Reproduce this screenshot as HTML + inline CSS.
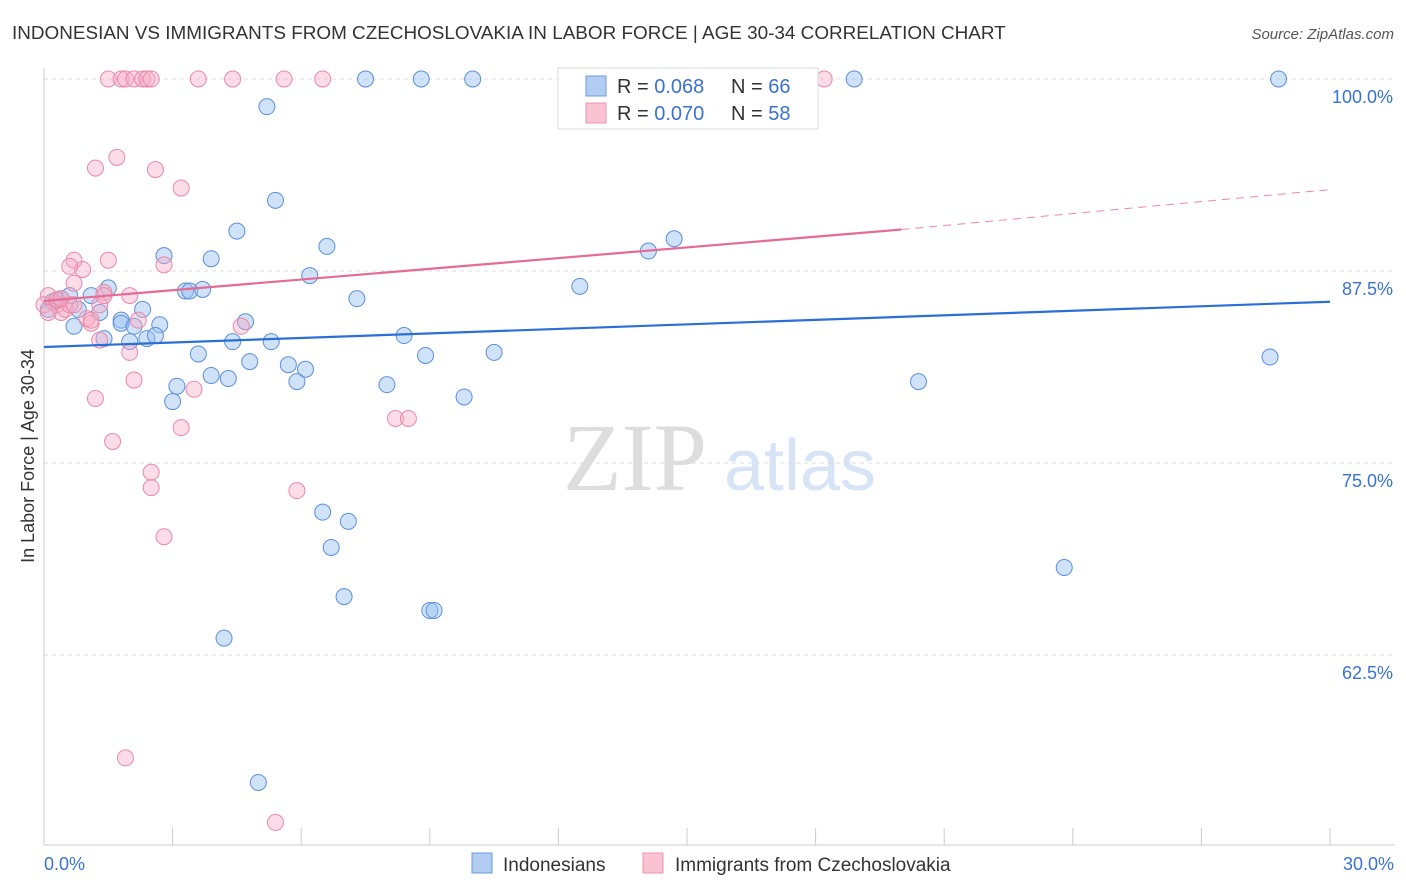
<!DOCTYPE html>
<html><head><meta charset="utf-8"><style>
body{margin:0;background:#fff;font-family:"Liberation Sans",sans-serif}
svg{display:block}
</style></head><body>
<svg id="c" width="1406" height="892" xmlns="http://www.w3.org/2000/svg">
<text x="12" y="39" font-size="18.9" fill="#333">INDONESIAN VS IMMIGRANTS FROM CZECHOSLOVAKIA IN LABOR FORCE | AGE 30-34 CORRELATION CHART</text>
<text x="1394" y="39" font-size="15" fill="#555" font-style="italic" text-anchor="end">Source: ZipAtlas.com</text>
<text x="0" y="0" transform="translate(34,456) rotate(-90)" font-size="18" fill="#333" text-anchor="middle">In Labor Force | Age 30-34</text>
<g><text x="635" y="490" font-family="Liberation Serif" font-size="96" fill="#ddd" text-anchor="middle">ZIP</text><text x="800" y="490" font-size="72" fill="#d6e4f5" text-anchor="middle">atlas</text></g>
<g id="grid"></g><g id="marks"></g><g id="lines"></g>
<g>
<rect x="558" y="68" width="260" height="61" fill="#fff" stroke="#ddd"/>
<rect x="586" y="76" width="20" height="20" fill="#b3cdf2" stroke="#6b9be0"/>
<rect x="586" y="103" width="20" height="20" fill="#f9c3d3" stroke="#ec95b0"/>
<text x="617" y="93" font-size="20" fill="#333">R = <tspan fill="#3a72d0">0.068</tspan></text>
<text x="731" y="93" font-size="20" fill="#333">N = <tspan fill="#3a72d0">66</tspan></text>
<text x="617" y="120" font-size="20" fill="#333">R = <tspan fill="#3a72d0">0.070</tspan></text>
<text x="731" y="120" font-size="20" fill="#333">N = <tspan fill="#3a72d0">58</tspan></text>
</g>
<g>
<rect x="472" y="853" width="20" height="20" fill="#b3cdf2" stroke="#6b9be0"/>
<text x="503" y="871" font-size="19" fill="#333">Indonesians</text>
<rect x="643" y="853" width="20" height="20" fill="#f9c3d3" stroke="#ec95b0"/>
<text x="675" y="871" font-size="19" fill="#333">Immigrants from Czechoslovakia</text>
</g>
</svg>
<script>
const yTicks=[100,87.5,75,62.5];
const yTickLabels=["100.0%","87.5%","75.0%","62.5%"];
const xTicks=[0,3,6,9,12,15,18,21,24,27,30];
const blueX=[5.2,7.5,8.8,10.0,18.9,28.8,5.4,4.5,6.6,2.8,3.9,14.7,14.1,6.2,3.3,3.4,3.7,12.5,7.3,1.5,1.1,0.4,0.2,0.8,1.3,2.3,1.8,1.8,2.1,2.7,4.7,1.4,2.0,2.4,2.6,4.4,5.3,8.4,3.6,4.8,5.7,6.1,8.9,10.5,28.6,3.9,4.3,5.9,3.1,8.0,20.4,3.0,9.8,6.5,7.1,6.7,23.8,7.0,9.0,9.1,4.2,5.0,0.7,0.1,0.3,0.6];
const blueY=[98.2,100,100,100,100,100,92.1,90.1,89.1,88.5,88.3,89.6,88.8,87.2,86.2,86.2,86.3,86.5,85.7,86.4,85.9,85.7,85.5,85.0,84.8,85.0,84.3,84.1,83.9,84.0,84.2,83.1,82.9,83.1,83.3,82.9,82.9,83.3,82.1,81.6,81.4,81.1,82.0,82.2,81.9,80.7,80.5,80.3,80.0,80.1,80.3,79.0,79.3,71.8,71.2,69.5,68.2,66.3,65.4,65.4,63.6,54.2,83.9,85.0,85.6,85.9];
const pinkX=[1.5,1.8,1.9,2.1,2.3,2.4,2.5,3.6,4.4,5.6,6.5,18.2,1.7,1.2,2.6,3.2,1.5,0.7,0.9,0.6,0.7,2.8,2.0,1.4,1.3,0.1,0.3,0.4,0.5,1.0,1.1,2.2,4.6,1.3,2.0,2.1,3.5,1.2,3.2,1.6,2.5,2.5,5.9,8.2,8.5,2.8,1.9,5.4,0.0,0.1,0.3,0.6,0.4,0.7,1.1,1.4];
const pinkY=[100,100,100,100,100,100,100,100,100,100,100,100,94.9,94.2,94.1,92.9,88.2,88.2,87.6,87.8,86.7,87.9,85.9,86.1,85.3,85.9,85.3,84.8,85.0,84.4,84.1,84.3,83.9,83.0,82.2,80.4,79.8,79.2,77.3,76.4,74.4,73.4,73.2,77.9,77.9,70.2,55.8,51.6,85.3,84.8,85.6,85.3,85.7,85.3,84.3,85.9];
const blueTrend=[82.55,85.5];
const pinkTrend=[85.55,90.2,92.8];
const NS="http://www.w3.org/2000/svg";
const X0=44,X1=1330,Y100=79,PX125=192;
const sx=v=>X0+(v/30)*(X1-X0);
const sy=v=>Y100+(100-v)/12.5*PX125;
function mk(t,a,p){const e=document.createElementNS(NS,t);for(const k in a)e.setAttribute(k,a[k]);p.appendChild(e);return e;}
const grid=document.getElementById('grid'),marks=document.getElementById('marks'),lines=document.getElementById('lines');
yTicks.forEach((t,i)=>{
 const g=mk('line',{x1:X0,x2:1395,y1:sy(t),y2:sy(t),stroke:'#ddd','stroke-dasharray':'4,4'},grid);
 
 
 const l=mk('text',{x:1393,y:sy(t)+24,'font-size':18,fill:'#3a72d0','text-anchor':'end'},grid);l.textContent=yTickLabels[i];
 
 
});
const ax=mk('line',{x1:X0,x2:X0,y1:68,y2:845,stroke:'#ccc'},grid);


const bx=mk('line',{x1:X0,x2:1395,y1:845,y2:845,stroke:'#ccc'},grid);


xTicks.forEach(t=>{const k=mk('line',{x1:sx(t),x2:sx(t),y1:828,y2:845,stroke:'#ccc'},grid);
 
 });
const xl0=mk('text',{x:44,y:870,'font-size':18,fill:'#3a72d0'},grid);xl0.textContent='0.0%';


const xl1=mk('text',{x:1394,y:870,'font-size':18,fill:'#3a72d0','text-anchor':'end'},grid);xl1.textContent='30.0%';


blueX.forEach((v,i)=>{const c=mk('circle',{cx:sx(v),cy:sy(blueY[i]),r:8,fill:'rgba(150,190,240,0.45)',stroke:'#5b8fd8','stroke-width':1},marks);
 
 });
pinkX.forEach((v,i)=>{const c=mk('circle',{cx:sx(v),cy:sy(pinkY[i]),r:8,fill:'rgba(248,170,195,0.4)',stroke:'#e889a8','stroke-width':1},marks);
 
 });
const b=mk('line',{x1:sx(0),y1:sy(blueTrend[0]),x2:sx(30),y2:sy(blueTrend[1]),stroke:'#2a6fd6','stroke-width':2.2},lines);


const p=mk('line',{x1:sx(0),y1:sy(pinkTrend[0]),x2:sx(20),y2:sy(pinkTrend[1]),stroke:'#e56a95','stroke-width':2.2},lines);


const pd=mk('line',{x1:sx(20),y1:sy(pinkTrend[1]),x2:sx(30),y2:sy(pinkTrend[2]),stroke:'#e889a8','stroke-width':1,'stroke-dasharray':'8,6'},lines);


</script>
</body></html>
